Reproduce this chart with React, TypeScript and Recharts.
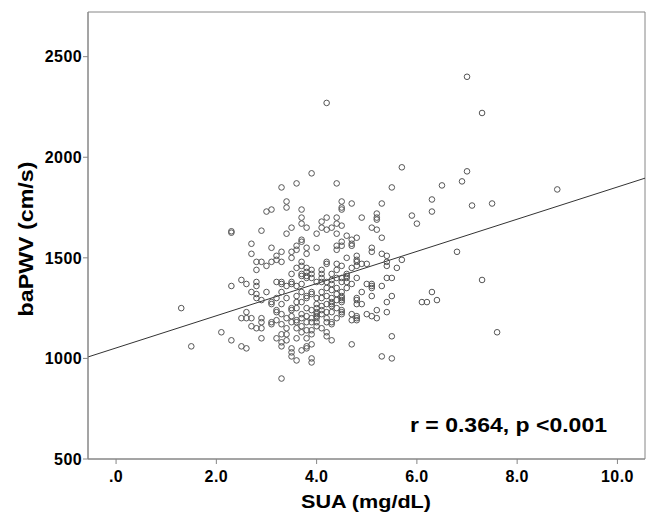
import { ScatterChart, Scatter, XAxis, YAxis, ReferenceArea, ReferenceLine } from 'recharts'

// SUA levels (mg/dL) and the baPWV readings (cm/s) at each level
const SUA_LEVELS = [
    1.3, 1.5, 2.1, 2.3, 2.5, 2.6, 2.7, 2.8, 2.9, 3.0,
    3.1, 3.2, 3.3, 3.4, 3.5, 3.6, 3.7, 3.8, 3.9, 4.0,
    4.1, 4.2, 4.3, 4.4, 4.5, 4.6, 4.7, 4.8, 4.9, 5.0,
    5.1, 5.2, 5.3, 5.4, 5.5, 5.6, 5.7, 5.9, 6.0, 6.1,
    6.2, 6.3, 6.4, 6.5, 6.8, 6.9, 7.0, 7.1, 7.3, 7.5,
    7.6, 8.8,
]

const BAPWV_BY_LEVEL = [
    [1250],
    [1060],
    [1130],
    [1090, 1360, 1625, 1632],
    [1060, 1200, 1390],
    [1050, 1200, 1230, 1370],
    [1160, 1200, 1330, 1520, 1570],
    [1150, 1300, 1320, 1360, 1380, 1440, 1480],
    [1100, 1150, 1180, 1200, 1290, 1480, 1635],
    [1330, 1460, 1730],
    [1170, 1180, 1270, 1280, 1480, 1550, 1740],
    [1100, 1190, 1230, 1240, 1300, 1380, 1490, 1510],
    [900, 1060, 1080, 1120, 1170, 1220, 1270, 1330, 1370, 1380, 1480, 1530, 1850],
    [1090, 1120, 1150, 1200, 1300, 1360, 1620, 1750, 1780],
    [1010, 1030, 1050, 1180, 1210, 1240, 1250, 1370, 1380, 1420, 1500, 1530, 1650],
    [990, 1100, 1150, 1180, 1190, 1250, 1280, 1310, 1360, 1450, 1540, 1560, 1870],
    [1040, 1130, 1160, 1200, 1220, 1280, 1330, 1370, 1410, 1420, 1460, 1480, 1580, 1590, 1670, 1700, 1740],
    [1050, 1060, 1100, 1140, 1180, 1210, 1250, 1300, 1310, 1400, 1410, 1430, 1450, 1520, 1550, 1650],
    [980, 1000, 1070, 1120, 1140, 1180, 1200, 1240, 1320, 1330, 1400, 1420, 1440, 1920],
    [1160, 1180, 1200, 1210, 1220, 1230, 1250, 1270, 1300, 1380, 1550, 1620],
    [1150, 1220, 1240, 1260, 1300, 1330, 1380, 1400, 1420, 1440, 1650, 1680],
    [1110, 1130, 1180, 1200, 1230, 1270, 1310, 1350, 1380, 1470, 1480, 1640, 1700, 2270],
    [1090, 1170, 1180, 1230, 1260, 1270, 1280, 1300, 1340, 1370, 1390, 1420, 1650],
    [1200, 1250, 1290, 1320, 1350, 1400, 1440, 1470, 1540, 1560, 1620, 1670, 1700, 1870],
    [1220, 1230, 1240, 1280, 1290, 1300, 1310, 1330, 1380, 1400, 1460, 1560, 1580, 1660, 1740, 1750, 1780],
    [1350, 1380, 1400, 1410, 1420, 1500, 1610],
    [1070, 1190, 1220, 1370, 1450, 1560, 1570, 1590, 1770],
    [1190, 1200, 1210, 1270, 1290, 1300, 1400, 1460, 1480, 1490, 1510, 1600],
    [1270, 1330, 1470, 1700],
    [1220, 1370, 1470],
    [1210, 1310, 1350, 1360, 1370, 1530, 1550, 1650],
    [1200, 1240, 1640, 1690, 1700, 1720],
    [1010, 1360, 1520, 1600, 1770],
    [1230, 1280, 1400, 1460, 1480, 1510],
    [1000, 1110, 1310, 1400, 1850],
    [1450],
    [1490, 1950],
    [1710],
    [1670],
    [1280],
    [1280],
    [1330, 1730, 1790],
    [1290],
    [1860],
    [1530],
    [1880],
    [1930, 2400],
    [1760],
    [1390, 2220],
    [1770],
    [1130],
    [1840],
]

const X_TICKS = [0, 2, 4, 6, 8, 10]
const Y_TICKS = [500, 1000, 1500, 2000, 2500]

// fitted line: baPWV = intercept + slope * SUA
const FIT_INTERCEPT = 1052
const FIT_SLOPE = 80

const X_MIN = -0.56
const X_MAX = 10.55
const Y_MIN = 500
const Y_MAX = 2722

const FONT = '"Liberation Sans", Arial, sans-serif'
const AXIS_GREY = '#868686'

const points = SUA_LEVELS.flatMap((x, i) => BAPWV_BY_LEVEL[i].map((y) => ({ x, y })))

const tickStyle = { fontSize: 16, fontWeight: 'bold', fill: '#000', fontFamily: FONT, letterSpacing: 0.4 }

const Ring = (props: any) => (
    <circle cx={props.cx} cy={props.cy} r={2.8} fill="none" stroke="#555" strokeWidth={1} />
)

export default function App() {
    return (
        <div style={{ position: 'fixed', top: 0, left: 0, width: 648, height: 514, background: '#fff' }}>
            <ScatterChart width={648} height={514} margin={{ top: 12, right: 3, bottom: 0, left: 0 }}>
                <XAxis
                    type="number"
                    dataKey="x"
                    domain={[X_MIN, X_MAX]}
                    ticks={X_TICKS}
                    interval={0}
                    allowDataOverflow
                    height={55}
                    tickSize={5}
                    tickMargin={7}
                    stroke={AXIS_GREY}
                    tick={tickStyle}
                    tickFormatter={(v: number) => (v === 0 ? '.0' : v.toFixed(1))}
                />
                <YAxis
                    type="number"
                    dataKey="y"
                    domain={[Y_MIN, Y_MAX]}
                    ticks={Y_TICKS}
                    interval={0}
                    allowDataOverflow
                    width={88}
                    tickSize={5}
                    tickMargin={1}
                    stroke={AXIS_GREY}
                    tick={tickStyle}
                />
                <ReferenceArea x1={X_MIN} x2={X_MAX} y1={Y_MIN} y2={Y_MAX} fill="none" stroke={AXIS_GREY} strokeWidth={1} />
                <ReferenceLine
                    segment={[
                        { x: X_MIN, y: FIT_INTERCEPT + FIT_SLOPE * X_MIN },
                        { x: X_MAX, y: FIT_INTERCEPT + FIT_SLOPE * X_MAX },
                    ]}
                    stroke="#333"
                    strokeWidth={1}
                />
                <Scatter data={points} shape={Ring} isAnimationActive={false} />
            </ScatterChart>
            <svg
                width={648}
                height={514}
                style={{ position: 'absolute', top: 0, left: 0, pointerEvents: 'none' }}
                fontFamily={FONT}
                fontWeight="bold"
            >
                <text x={410} y={432} fontSize={21} textLength={197} lengthAdjust="spacingAndGlyphs">
                    r = 0.364, p &lt;0.001
                </text>
                <text x={366} y={508} fontSize={19} textAnchor="middle" textLength={130} lengthAdjust="spacingAndGlyphs">
                    SUA (mg/dL)
                </text>
                <text
                    transform="translate(32.5 239) rotate(-90)"
                    fontSize={20}
                    textAnchor="middle"
                    textLength={155}
                    lengthAdjust="spacingAndGlyphs"
                >
                    baPWV (cm/s)
                </text>
            </svg>
        </div>
    )
}
